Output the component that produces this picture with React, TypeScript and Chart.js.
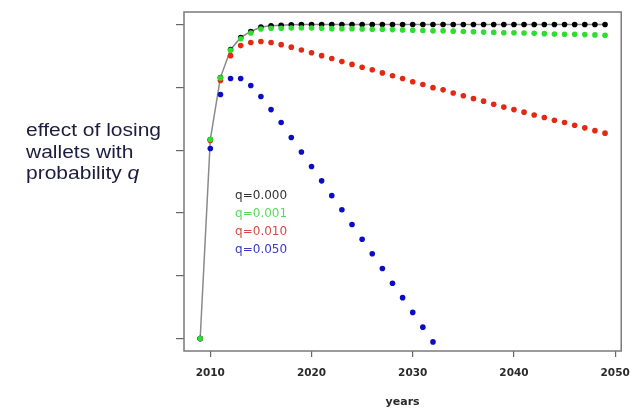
import React, { useEffect, useRef } from "react";
import { Chart, registerables } from "chart.js";

Chart.register(...registerables);

// Years 2009..2049
const years = [
  2009, 2010, 2011, 2012, 2013, 2014, 2015, 2016, 2017, 2018,
  2019, 2020, 2021, 2022, 2023, 2024, 2025, 2026, 2027, 2028,
  2029, 2030, 2031, 2032, 2033, 2034, 2035, 2036, 2037, 2038,
  2039, 2040, 2041, 2042, 2043, 2044, 2045, 2046, 2047, 2048, 2049,
];

// fraction of maximum supply
const q000 = [
  0, 0.634, 0.831, 0.92, 0.959, 0.978, 0.992, 0.996, 0.998, 0.999,
  1, 1, 1, 1, 1, 1, 1, 1, 1, 1,
  1, 1, 1, 1, 1, 1, 1, 1, 1, 1,
  1, 1, 1, 1, 1, 1, 1, 1, 1, 1, 1,
];
const q001 = [
  0, 0.634, 0.83, 0.918, 0.955, 0.973, 0.986, 0.988, 0.988, 0.989,
  0.989, 0.989, 0.988, 0.987, 0.987, 0.987, 0.986, 0.985, 0.985, 0.984,
  0.983, 0.982, 0.981, 0.98, 0.98, 0.979, 0.978, 0.977, 0.976, 0.975,
  0.974, 0.974, 0.973, 0.972, 0.971, 0.97, 0.969, 0.969, 0.968, 0.967, 0.966,
];
const q010 = [
  0, 0.631, 0.822, 0.901, 0.933, 0.943, 0.946, 0.943, 0.936, 0.928,
  0.919, 0.91, 0.901, 0.892, 0.882, 0.873, 0.864, 0.856, 0.846, 0.837,
  0.828, 0.818, 0.809, 0.799, 0.792, 0.782, 0.773, 0.764, 0.756, 0.746,
  0.737, 0.729, 0.721, 0.712, 0.704, 0.695, 0.688, 0.679, 0.671, 0.662, 0.654,
];
const q050 = [
  0, 0.605, 0.777, 0.828, 0.828, 0.806, 0.771, 0.729, 0.688, 0.64,
  0.594, 0.548, 0.502, 0.455, 0.41, 0.363, 0.316, 0.27, 0.223, 0.176,
  0.13, 0.083, 0.036, -0.011,
];

const xTicks = [2010, 2020, 2030, 2040, 2050];
const yTicks = [0, 0.2, 0.4, 0.6, 0.8, 1.0];
const legendLabels = ["q=0.000", "q=0.001", "q=0.010", "q=0.050"];
const legendColors = ["#333333", "#5cd85c", "#d84a44", "#3a3ac4"];
const xTitle = "years";

const toPoints = (vals: number[]) => vals.map((v, i) => ({ x: years[i], y: v }));

const boxPlugin = {
  id: "boxPlugin",
  beforeDatasetsDraw(chart: any) {
    const { ctx, chartArea } = chart;
    ctx.save();
    ctx.strokeStyle = "#7a7a7a";
    ctx.lineWidth = 1.5;
    ctx.strokeRect(chartArea.left, chartArea.top, chartArea.right - chartArea.left, chartArea.bottom - chartArea.top);
    ctx.restore();
  },
};

const legendPlugin = {
  id: "legendPlugin",
  afterDraw(chart: any) {
    const { ctx, scales } = chart;
    const x = scales.x.getPixelForValue(2012.45);
    ctx.save();
    ctx.font = "12px 'DejaVu Sans'";
    ctx.textBaseline = "middle";
    ctx.textAlign = "left";
    legendLabels.forEach((t, i) => {
      const y = scales.y.getPixelForValue(0.455 - i * 0.0573);
      ctx.fillStyle = legendColors[i];
      ctx.fillText(t, x, y);
    });
    ctx.restore();
  },
};

export default function App() {
  const ref = useRef<HTMLCanvasElement>(null);
  useEffect(() => {
    if (!ref.current) return;
    const chart = new Chart(ref.current, {
      type: "line",
      data: {
        datasets: [
          {
            label: legendLabels[0],
            data: toPoints(q000),
            borderColor: "#8a8a8a",
            borderWidth: 1.5,
            backgroundColor: "#000000",
            pointBackgroundColor: "#000000",
            pointBorderWidth: 0,
            pointRadius: 2.8,
            showLine: true,
            order: 4,
          },
          {
            label: legendLabels[2],
            data: toPoints(q010),
            showLine: false,
            pointBackgroundColor: "#e02a14",
            backgroundColor: "#e02a14",
            pointBorderWidth: 0,
            pointRadius: 2.8,
            order: 3,
          },
          {
            label: legendLabels[3],
            data: toPoints(q050),
            showLine: false,
            pointBackgroundColor: "#0c0cc4",
            backgroundColor: "#0c0cc4",
            pointBorderWidth: 0,
            pointRadius: 2.8,
            order: 2,
          },
          {
            label: legendLabels[1],
            data: toPoints(q001),
            showLine: false,
            pointBackgroundColor: "#2fdc2f",
            backgroundColor: "#2fdc2f",
            pointBorderWidth: 0,
            pointRadius: 2.8,
            order: 1,
          },
        ],
      },
      options: {
        animation: false,
        responsive: false,
        devicePixelRatio: 1,
        layout: { padding: { left: 0, top: 12, right: 17, bottom: 5 } },
        plugins: { legend: { display: false }, tooltip: { enabled: false } },
        scales: {
          x: {
            type: "linear",
            min: 2007.4,
            max: 2050.6,
            afterBuildTicks: (s: any) => {
              s.ticks = xTicks.map((v) => ({ value: v }));
            },
            afterFit: (s: any) => {
              s.height = 58;
            },
            grid: { drawOnChartArea: false, drawTicks: true, tickLength: 6, color: "#666", lineWidth: 1.2 },
            border: { display: false },
            ticks: {
              padding: 10,
              color: "#2a2a2a",
              font: { family: "'DejaVu Sans'", size: 10.5, weight: "bold" },
              callback: (v: any) => String(v),
            },
            title: {
              display: true,
              text: xTitle,
              color: "#2a2a2a",
              font: { family: "'DejaVu Sans'", size: 11, weight: "bold" },
              padding: { top: 0, bottom: 0 },
            },
          },
          y: {
            type: "linear",
            min: -0.04,
            max: 1.04,
            afterBuildTicks: (s: any) => {
              s.ticks = yTicks.map((v) => ({ value: v }));
            },
            afterFit: (s: any) => {
              s.width = 184;
            },
            grid: { drawOnChartArea: false, drawTicks: true, tickLength: 8, color: "#666", lineWidth: 1.2 },
            border: { display: false },
            ticks: { display: false },
          },
        },
      },
      plugins: [boxPlugin, legendPlugin],
    } as any);
    return () => chart.destroy();
  }, []);

  return (
    <div style={{ position: "absolute", left: 0, top: 0, width: 640, height: 414, background: "#fff", overflow: "hidden" }}>
      <canvas ref={ref} width={640} height={414} style={{ width: 640, height: 414, display: "block" }} />
      <div
        style={{
          position: "absolute",
          left: 26,
          top: 120,
          fontFamily: "'Liberation Sans', Arial, sans-serif",
          fontSize: 17.5,
          lineHeight: "21.5px",
          color: "#1c1c40",
          transform: "scaleX(1.2)",
          transformOrigin: "left top",
          whiteSpace: "nowrap",
        }}
      >
        <div>effect of losing</div>
        <div>wallets with</div>
        <div>
          probability <i>q</i>
        </div>
      </div>
    </div>
  );
}
